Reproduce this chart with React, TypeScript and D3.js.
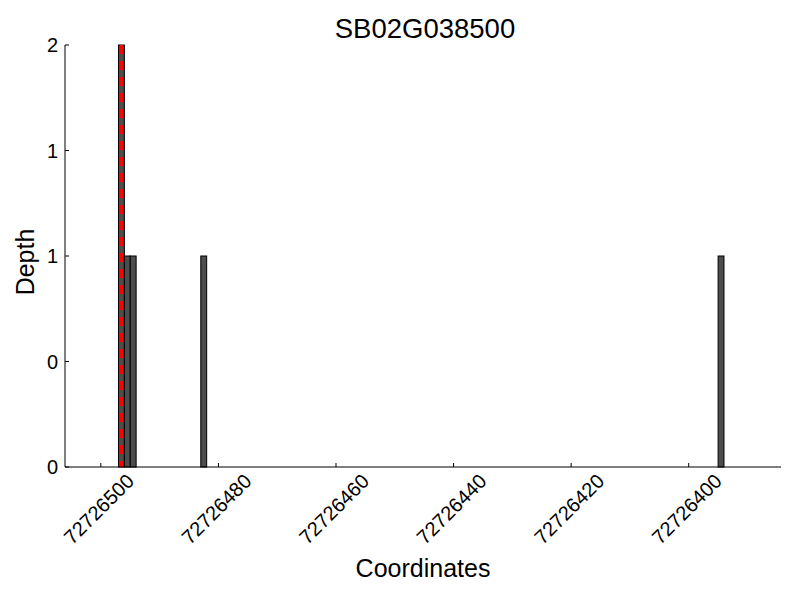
import React from 'react';
import * as d3 from 'd3';

// coverage bins (start coordinate, each bin is 1 bp wide) and their depth
const binStarts = [72726496, 72726495, 72726494, 72726482, 72726394];
const depths = [2, 1, 1, 1, 1];
const markerPosition = 72726496.5;

const xTicks = [72726500, 72726480, 72726460, 72726440, 72726420, 72726400];
const yTicks = [0, 0.5, 1, 1.5, 2];
const yTickLabels = ['0', '0', '1', '1', '2'];

const title = 'SB02G038500';
const xLabel = 'Coordinates';
const yLabel = 'Depth';

const App = () => {
  const width = 800;
  const height = 600;
  const margin = { top: 45, right: 19, bottom: 133, left: 65 };
  const font = '"Liberation Sans", Arial, sans-serif';

  // axis is reversed: larger coordinates on the left
  const x = d3.scaleLinear()
    .domain([72726506.1, 72726384.3])
    .range([margin.left, width - margin.right]);

  const y = d3.scaleLinear()
    .domain([0, 2])
    .range([height - margin.bottom, margin.top]);

  const bars = binStarts.map((s, i) => ({ start: s, depth: depths[i] }));

  return (
    <svg
      width={width}
      height={height}
      style={{ position: 'absolute', left: 0, top: 0, background: '#fff' }}
      fontFamily={font}
    >
      <text x={425} y={38} textAnchor="middle" fontSize={27.5} fill="#000">{title}</text>

      {bars.map((d, i) => (
        <rect
          key={i}
          x={x(d.start + 1)}
          y={y(d.depth)}
          width={x(d.start) - x(d.start + 1)}
          height={y(0) - y(d.depth)}
          fill="#4d4d4d"
          stroke="#000"
          strokeWidth={1}
        />
      ))}

      <line
        x1={x(markerPosition)}
        x2={x(markerPosition)}
        y1={y(2)}
        y2={y(0)}
        stroke="#ff0000"
        strokeWidth={3}
        strokeDasharray="9,7"
      />

      {/* axes: left and bottom spines only, ticks pointing inward */}
      <line x1={margin.left} x2={margin.left} y1={y(2)} y2={y(0)} stroke="#000" strokeWidth={1} />
      <line x1={margin.left} x2={width - margin.right} y1={y(0)} y2={y(0)} stroke="#000" strokeWidth={1} />

      {yTicks.map((t, i) => (
        <g key={'y' + i}>
          <line x1={margin.left} x2={margin.left + 4} y1={y(t)} y2={y(t)} stroke="#000" />
          <text x={margin.left - 7} y={y(t)} textAnchor="end" dominantBaseline="central" fontSize={20}>
            {yTickLabels[i]}
          </text>
        </g>
      ))}

      {xTicks.map((t) => (
        <g key={'x' + t}>
          <line x1={x(t)} x2={x(t)} y1={y(0)} y2={y(0) - 4} stroke="#000" />
          <text
            transform={`translate(${x(t) - 2},${509}) rotate(-45)`}
            textAnchor="middle"
            dominantBaseline="central"
            fontSize={20}
          >
            {t}
          </text>
        </g>
      ))}

      <text x={423} y={577} textAnchor="middle" fontSize={25}>{xLabel}</text>
      <text
        transform={`translate(34,${(y(0) + y(2)) / 2 + 6}) rotate(-90)`}
        textAnchor="middle"
        fontSize={25}
      >
        {yLabel}
      </text>
    </svg>
  );
};

export default App;
